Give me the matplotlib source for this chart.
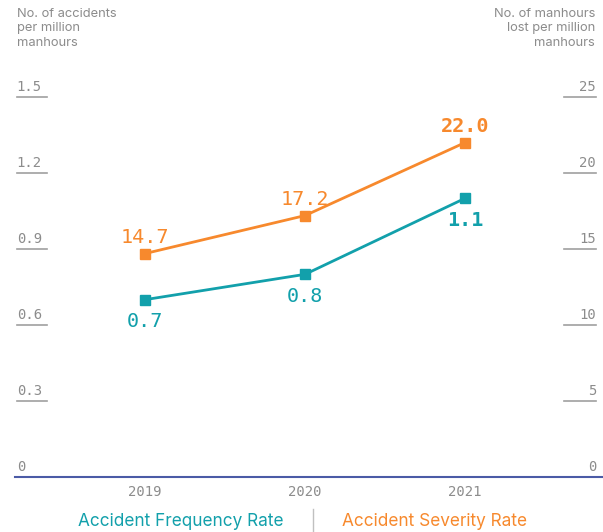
import matplotlib
matplotlib.use('Agg')
import matplotlib.pyplot as plt
import matplotlib.transforms as mtransforms

years = [2019, 2020, 2021]
freq_rate = [0.7, 0.8, 1.1]
sev_rate = [14.7, 17.2, 22.0]
freq_labels = ['0.7', '0.8', '1.1']
sev_labels = ['14.7', '17.2', '22.0']
left_ticks = [0, 0.3, 0.6, 0.9, 1.2, 1.5]
left_tick_labels = ['0', '0.3', '0.6', '0.9', '1.2', '1.5']
right_ticks = [0, 5, 10, 15, 20, 25]
right_tick_labels = ['0', '5', '10', '15', '20', '25']

TEAL = '#12a0ab'
ORANGE = '#f7892d'
GRAY = '#8c8c8c'
MONO = 'DejaVu Sans Mono'
SANS = 'Inter'

fig = plt.figure(figsize=(6.03, 5.32), dpi=100)
ax = fig.add_axes([15 / 603, 55 / 532, 588 / 603, 380 / 532])
ax2 = ax.twinx()
for a in (ax, ax2):
    a.set_xlim(2018.1875, 2021.8625)
    for s in a.spines.values():
        s.set_visible(False)
    a.set_xticks([])
    a.set_yticks([])
    a.patch.set_visible(False)
ax.set_ylim(0, 1.5)
ax2.set_ylim(0, 25)

# baseline
ax.axhline(0, color='#4b5ba6', lw=1.5, clip_on=False)

# left tick labels sitting on a short underline
tl = mtransforms.blended_transform_factory(ax.transAxes, ax.transData)
for v, lab in zip(left_ticks, left_tick_labels):
    ax.annotate(lab, (0.003, v), xycoords=tl, xytext=(0, 2.5),
                textcoords='offset points', ha='left', va='bottom',
                fontsize=10, family=MONO, color=GRAY)
    if v > 0:
        ax.plot([0.003, 0.055], [v, v], transform=tl, color='#a0a0a0',
                lw=1.2, clip_on=False)

tr = mtransforms.blended_transform_factory(ax2.transAxes, ax2.transData)
for v, lab in zip(right_ticks, right_tick_labels):
    ax2.annotate(lab, (0.9885, v), xycoords=tr, xytext=(0, 2.5),
                 textcoords='offset points', ha='right', va='bottom',
                 fontsize=10, family=MONO, color=GRAY)
    if v > 0:
        ax2.plot([0.934, 0.9885], [v, v], transform=tr, color='#a0a0a0',
                 lw=1.2, clip_on=False)

# lines
ax.plot(years, freq_rate, color=TEAL, lw=2, marker='s', ms=7, zorder=3)
ax2.plot(years, sev_rate, color=ORANGE, lw=2, marker='s', ms=7, zorder=3)

for i, (x, y, lab) in enumerate(zip(years, freq_rate, freq_labels)):
    ax.annotate(lab, (x, y), xytext=(0, -9), textcoords='offset points',
                ha='center', va='top', fontsize=14.5, family=MONO, color=TEAL,
                fontweight='bold' if i == len(years) - 1 else 'normal')
for i, (x, y, lab) in enumerate(zip(years, sev_rate, sev_labels)):
    ax2.annotate(lab, (x, y), xytext=(0, 5), textcoords='offset points',
                 ha='center', va='bottom', fontsize=14.5, family=MONO, color=ORANGE,
                 fontweight='bold' if i == len(years) - 1 else 'normal')

# year labels
tx = mtransforms.blended_transform_factory(ax.transData, ax.transAxes)
for yr in years:
    ax.annotate(str(yr), (yr, 0), xycoords=tx, xytext=(0, -5.5),
                textcoords='offset points', ha='center', va='top',
                fontsize=10, family=MONO, color=GRAY)

# axis titles
fig.text(17 / 603, 1 - 8 / 532, 'No. of accidents\nper million\nmanhours',
         ha='left', va='top', fontsize=9.3, family=SANS, color=GRAY,
         linespacing=1.25)
fig.text(595 / 603, 1 - 8 / 532, 'No. of manhours\nlost per million\nmanhours',
         ha='right', va='top', fontsize=9.3, family=SANS, color=GRAY,
         linespacing=1.25, multialignment='right')

# legend
fig.text(181 / 603, 1 - 521 / 532, 'Accident Frequency Rate', ha='center',
         va='center', fontsize=12.4, family=SANS, color=TEAL)
fig.text(434 / 603, 1 - 521 / 532, 'Accident Severity Rate', ha='center',
         va='center', fontsize=12.4, family=SANS, color=ORANGE)
fig.add_artist(plt.Line2D([313 / 603, 313 / 603], [0, 1 - 509 / 532],
                          color='#c0c0c0', lw=1))

fig.savefig('out.png', dpi=100)
